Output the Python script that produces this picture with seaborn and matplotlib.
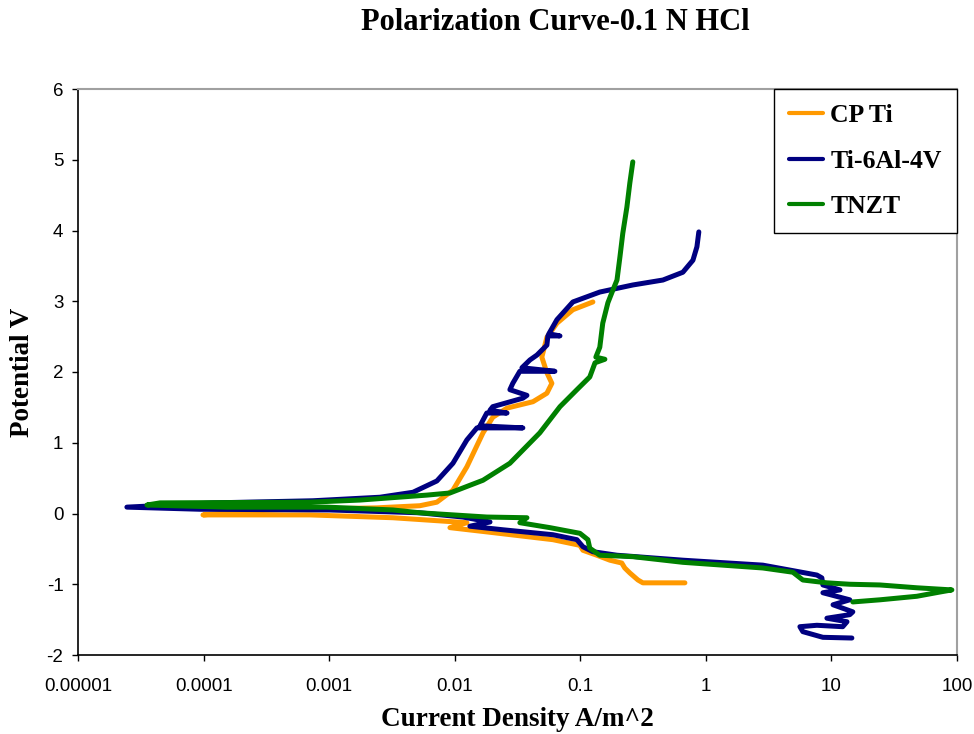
import matplotlib
matplotlib.use("Agg")
import matplotlib.pyplot as plt
from matplotlib.lines import Line2D
import pandas as pd
import seaborn as sns

# ---- measured polarization data (current density A/m^2, potential V) ----
cpti_current = [0.681, 0.315, 0.288, 0.248, 0.226, 0.214, 0.172, 0.1355, 0.105, 0.0993,
                0.0605, 0.0180, 0.00916, 0.0125, 0.00322, 0.000703, 0.0000989,
                0.000281, 0.0024, 0.00528, 0.00721, 0.00968, 0.0125, 0.0168, 0.0201,
                0.0261, 0.0420, 0.0542, 0.0594, 0.0542, 0.0494, 0.0542, 0.0652,
                0.0873, 0.126]
cpti_potential = [-0.98, -0.98, -0.94, -0.84, -0.77, -0.70, -0.66, -0.59, -0.52, -0.45,
                  -0.37, -0.26, -0.20, -0.13, -0.06, -0.02, -0.02,
                  0.05, 0.08, 0.11, 0.16, 0.33, 0.66, 1.14, 1.36,
                  1.49, 1.58, 1.70, 1.84, 1.99, 2.21, 2.49, 2.69,
                  2.88, 2.99]

ti64_current = [14.55, 8.55, 5.92, 5.61, 7.66, 12.3, 13.3, 9.2, 14.0, 14.8, 10.3, 14.0,
                8.55, 11.7, 8.55, 8.39, 7.66, 4.67, 2.84, 0.656, 0.196, 0.126, 0.105,
                0.094, 0.0605, 0.0242, 0.0132, 0.0191, 0.0116, 0.00528, 0.00101,
                0.0000935, 0.0000245,
                0.000119, 0.000743, 0.00254, 0.00465, 0.00721, 0.00968, 0.0125,
                0.01503, 0.0349, 0.0159, 0.0180, 0.0261, 0.0191, 0.0201, 0.0349,
                0.0376, 0.0275, 0.0290, 0.0330, 0.0628, 0.0343, 0.0397, 0.0452,
                0.0542, 0.0552, 0.0689, 0.0562, 0.0652, 0.0873, 0.143, 0.262,
                0.455, 0.656, 0.789, 0.849, 0.879]
ti64_potential = [-1.76, -1.75, -1.67, -1.60, -1.58, -1.60, -1.53, -1.48, -1.43, -1.39,
                  -1.29, -1.22, -1.12, -1.08, -1.01, -0.91, -0.87, -0.80, -0.73, -0.66,
                  -0.59, -0.54, -0.47, -0.37, -0.30, -0.23, -0.18, -0.12, -0.05, 0.01,
                  0.05, 0.06, 0.09,
                  0.15, 0.18, 0.23, 0.30, 0.46, 0.71, 1.04,
                  1.21, 1.21, 1.24, 1.42, 1.42, 1.46, 1.51, 1.63,
                  1.67, 1.75, 1.84, 2.01, 2.01, 2.06, 2.17, 2.24,
                  2.38, 2.51, 2.51, 2.54, 2.74, 2.99, 3.13, 3.23,
                  3.30, 3.41, 3.58, 3.77, 3.98]

tnzt_current = [14.8, 24.3, 47.9, 73.0, 91.0, 47.9, 24.3, 14.0, 9.2, 5.92, 4.93, 2.84,
                0.656, 0.262, 0.143, 0.119, 0.115, 0.0993, 0.0573, 0.0330, 0.0376,
                0.0180, 0.00528, 0.00322, 0.000962, 0.000153, 0.0000354,
                0.0000450, 0.000703, 0.00176, 0.00601, 0.00916, 0.0168, 0.0275,
                0.0476, 0.0689, 0.094, 0.119, 0.131, 0.157, 0.133, 0.143, 0.151,
                0.166, 0.182, 0.196, 0.207, 0.218, 0.235, 0.248, 0.262]
tnzt_potential = [-1.25, -1.22, -1.17, -1.11, -1.08, -1.05, -1.01, -1.00, -0.98, -0.94,
                  -0.83, -0.77, -0.69, -0.61, -0.59, -0.49, -0.37, -0.28, -0.20, -0.13,
                  -0.06, -0.05, 0.01, 0.05, 0.09, 0.09, 0.12,
                  0.15, 0.16, 0.19, 0.26, 0.29, 0.47, 0.71,
                  1.14, 1.51, 1.75, 1.93, 2.13, 2.18, 2.21, 2.35, 2.69,
                  2.98, 3.16, 3.30, 3.63, 3.96, 4.33, 4.67, 4.97]

series_names = ["CP Ti", "Ti-6Al-4V", "TNZT"]
series_colors = ["#FF9900", "#000080", "#008000"]

x_ticks = [1e-5, 1e-4, 1e-3, 1e-2, 1e-1, 1, 10, 100]
x_tick_labels = ["0.00001", "0.0001", "0.001", "0.01", "0.1", "1", "10", "100"]
y_ticks = [-2, -1, 0, 1, 2, 3, 4, 5, 6]

# ---- assemble long-form table ----
frames = []
for name, cur, pot in zip(series_names,
                          [cpti_current, ti64_current, tnzt_current],
                          [cpti_potential, ti64_potential, tnzt_potential]):
    frames.append(pd.DataFrame({"current": cur, "potential": pot,
                                "alloy": name, "step": range(len(cur))}))
data = pd.concat(frames, ignore_index=True)

sns.set_style("white")
plt.rcParams["axes.unicode_minus"] = False
plt.rcParams["font.family"] = ["Liberation Sans", "DejaVu Sans"]
plt.rcParams["text.color"] = "black"
plt.rcParams["axes.labelcolor"] = "black"
plt.rcParams["xtick.color"] = "black"
plt.rcParams["ytick.color"] = "black"

fig = plt.figure(figsize=(9.74, 7.34), dpi=100)
ax = fig.add_axes([78 / 974, 1 - 655 / 734, (957 - 78) / 974, (655 - 89) / 734])

sns.lineplot(data=data, x="current", y="potential", hue="alloy",
             hue_order=series_names, palette=series_colors,
             units="alloy", estimator=None, sort=False,
             linewidth=3.6, legend=False, ax=ax,
             solid_capstyle="round", solid_joinstyle="round")

ax.set_xscale("log")
ax.set_xlim(1e-5, 100)
ax.set_ylim(-2, 6)
ax.set_xticks(x_ticks)
ax.set_xticklabels(x_tick_labels)
ax.xaxis.set_minor_locator(matplotlib.ticker.NullLocator())
ax.set_yticks(y_ticks)
ax.set_yticklabels([str(v) for v in y_ticks])

ax.tick_params(axis="x", direction="out", length=4.5, width=1, colors="black",
               labelsize=13.5, pad=12, bottom=True)
ax.tick_params(axis="y", direction="out", length=4.5, width=1, colors="black",
               labelsize=13.5, pad=6, left=True)

for side in ("left", "bottom"):
    ax.spines[side].set_color("black")
    ax.spines[side].set_linewidth(1.2)
for side in ("top", "right"):
    ax.spines[side].set_color("#A0A0A0")
    ax.spines[side].set_linewidth(1.5)

serif_bold = dict(family=["Liberation Serif", "DejaVu Serif"], weight="bold",
                  color="black")

ax.set_xlabel("Current Density A/m^2", fontsize=19.5, **serif_bold)
ax.set_ylabel("Potential V", fontsize=19.5, **serif_bold)
ax.xaxis.label.set_va("center")
ax.yaxis.label.set_va("center")
ax.xaxis.set_label_coords(0.5, (655 - 719) / 566)
ax.yaxis.set_label_coords((22 - 78) / 879, 0.5)

fig.text(555 / 974, 1 - 22 / 734, "Polarization Curve-0.1 N HCl",
         ha="center", va="center", fontsize=22, **serif_bold)

handles = [Line2D([], [], color=c, linewidth=3) for c in series_colors]
leg = ax.legend(handles, series_names, loc="upper right",
                bbox_to_anchor=(1.0, 1.0), borderaxespad=0.0,
                prop=dict(family=["Liberation Serif", "DejaVu Serif"],
                          weight="bold", size=18.5),
                frameon=True, fancybox=False, framealpha=1,
                edgecolor="black", handlelength=1.3, handletextpad=0.3,
                labelspacing=0.86, borderpad=0.6)
leg.get_frame().set_linewidth(1.0)
for txt in leg.get_texts():
    txt.set_color("black")

fig.savefig("out.png", dpi=100)
